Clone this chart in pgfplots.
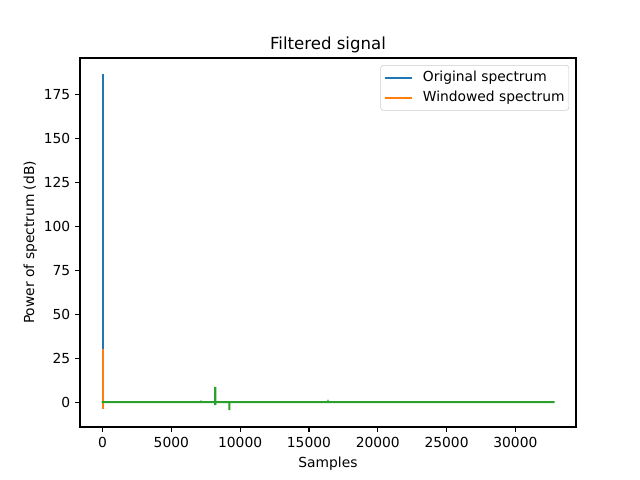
\documentclass[border=0pt]{standalone}
\usepackage{fontspec}
\setmainfont{DejaVu Sans}
\usepackage{pgfplots}
\pgfplotsset{compat=1.18}
\definecolor{mplblue}{HTML}{1F77B4}
\definecolor{mplorange}{HTML}{FF7F0E}
\definecolor{mplgreen}{HTML}{2CA02C}
\begin{document}
\begin{tikzpicture}
\path (-0.8in,-0.53in) rectangle (5.6in,4.27in);
\begin{axis}[
  at={(0,0)}, anchor=south west,
  scale only axis, width=4.96in, height=3.69in,
  xmin=-1638, xmax=34406, ymin=-14.15, ymax=195.95,
  xtick={0,5000,10000,15000,20000,25000,30000},
  ytick={0,25,50,75,100,125,150,175},
  scaled x ticks=false,
  /pgf/number format/.cd, 1000 sep={}, assume math mode=true, /pgfplots/.cd,
  tick align=outside, xtick pos=bottom, ytick pos=left,
  major tick length=3.5pt,
  tick style={black, line width=0.8pt},
  axis line style={line width=0.8pt},
  ticklabel style={font=\fontsize{10}{12}\selectfont},
  xlabel={Samples}, ylabel={Power of spectrum (dB)},
  label style={font=\fontsize{10}{12}\selectfont},
  ylabel style={yshift=-2pt},
  title={Filtered signal},
  title style={font=\fontsize{12}{14}\selectfont, at={(0.5,1)}, anchor=base, yshift=0pt},
  legend style={at={(0.986,0.981)}, anchor=north east, draw=black!20, rounded corners=2pt,
    font=\fontsize{10}{12}\selectfont, fill=white, fill opacity=0.8, text opacity=1,
    inner xsep=2pt, inner ysep=3pt, row sep=2.6pt,
    nodes={inner sep=1pt, text height=7.5pt, text depth=2.5pt},
    /tikz/every odd column/.append style={column sep=6pt}},
  legend cell align=left,
  legend image code/.code={\draw[#1, line width=1.5pt, line cap=butt] (0pt,0pt) -- (20pt,0pt);},
]
\addplot[mplblue, line width=1.5pt, line cap=rect] coordinates {(0,186.4) (0,-2.5)};
\addlegendentry{Original spectrum}
\addplot[mplorange, line width=1.5pt, line cap=rect] coordinates {(0,29.5) (0,-3.4)};
\addlegendentry{Windowed spectrum}
\addplot[mplgreen, line width=1.5pt, line cap=rect, forget plot] coordinates {
(0,0) (7160,0) (7168,0.8) (7176,0) (8184,0) (8192,8.7) (8192,-1.7) (8200,0)
(9208,0) (9216,0.5) (9216,-4.6) (9224,0) (16376,0) (16384,0.15) (16392,0) (32768,0)};
\end{axis}
\end{tikzpicture}
\end{document}
